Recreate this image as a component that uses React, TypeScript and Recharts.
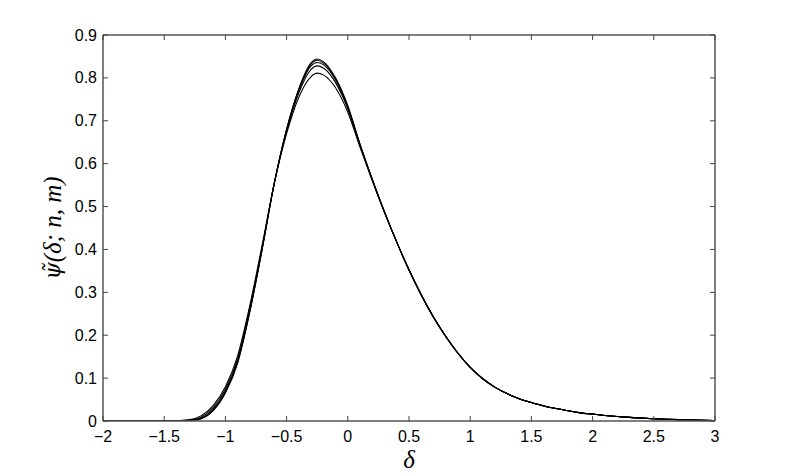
import React from 'react';
import { LineChart, Line, XAxis, YAxis } from 'recharts';

// delta grid (x) and the five psi-tilde curves
const deltas = [
  -2, -1.9, -1.8, -1.7, -1.6, -1.5, -1.4, -1.3, -1.2, -1.1, -1, -0.9, -0.8, -0.7, -0.6, -0.5, -0.4, -0.3, -0.25,
  -0.2, -0.1, 0, 0.1, 0.2, 0.3, 0.4, 0.5, 0.6, 0.7, 0.8, 0.9, 1, 1.1, 1.2, 1.3, 1.4, 1.5, 1.6, 1.7, 1.8, 1.9, 2,
  2.1, 2.2, 2.3, 2.4, 2.5, 2.6, 2.7, 2.8, 2.9, 3,
];

const psiA = [
  0, 0, 0, 0, 0, 0, 0.0001, 0.0007, 0.005, 0.024, 0.065, 0.135, 0.255, 0.4, 0.555, 0.68, 0.775, 0.835, 0.844,
  0.838, 0.8, 0.735, 0.645, 0.563, 0.487, 0.417, 0.352, 0.294, 0.242, 0.197, 0.158, 0.125, 0.099, 0.079, 0.064, 0.052,
  0.043, 0.035, 0.029, 0.024, 0.019, 0.016, 0.013, 0.0105, 0.0085, 0.0068, 0.0054, 0.0042, 0.0032, 0.0024, 0.0017, 0.0012,
];

const psiB = [
  0, 0, 0, 0, 0, 0, 0.0002, 0.001, 0.006, 0.025, 0.067, 0.137, 0.256, 0.4, 0.555, 0.68, 0.773, 0.832, 0.841,
  0.835, 0.798, 0.733, 0.645, 0.563, 0.487, 0.417, 0.352, 0.294, 0.242, 0.197, 0.158, 0.125, 0.099, 0.079, 0.064, 0.052,
  0.043, 0.035, 0.029, 0.024, 0.019, 0.016, 0.013, 0.0105, 0.0085, 0.0068, 0.0054, 0.0042, 0.0032, 0.0024, 0.0017, 0.0012,
];

const psiC = [
  0, 0, 0, 0, 0, 0, 0.0003, 0.0015, 0.007, 0.027, 0.069, 0.14, 0.259, 0.402, 0.555, 0.678, 0.77, 0.828, 0.836,
  0.831, 0.795, 0.731, 0.644, 0.563, 0.487, 0.417, 0.352, 0.294, 0.242, 0.197, 0.158, 0.125, 0.099, 0.079, 0.064, 0.052,
  0.043, 0.035, 0.029, 0.024, 0.019, 0.016, 0.013, 0.0105, 0.0085, 0.0068, 0.0054, 0.0042, 0.0032, 0.0024, 0.0017, 0.0012,
];

const psiD = [
  0, 0, 0, 0, 0, 0.0001, 0.0005, 0.002, 0.009, 0.031, 0.074, 0.145, 0.264, 0.405, 0.555, 0.675, 0.765, 0.82, 0.828,
  0.823, 0.789, 0.728, 0.642, 0.562, 0.487, 0.417, 0.352, 0.294, 0.242, 0.197, 0.158, 0.125, 0.099, 0.079, 0.064, 0.052,
  0.043, 0.035, 0.029, 0.024, 0.019, 0.016, 0.013, 0.0105, 0.0085, 0.0068, 0.0054, 0.0042, 0.0032, 0.0024, 0.0017, 0.0012,
];

const psiE = [
  0, 0, 0, 0, 0, 0.0002, 0.0008, 0.003, 0.012, 0.036, 0.08, 0.152, 0.27, 0.41, 0.555, 0.67, 0.755, 0.803, 0.811,
  0.807, 0.777, 0.72, 0.638, 0.56, 0.486, 0.417, 0.353, 0.295, 0.243, 0.198, 0.158, 0.125, 0.099, 0.079, 0.064, 0.052,
  0.043, 0.035, 0.029, 0.024, 0.019, 0.016, 0.013, 0.0105, 0.0085, 0.0068, 0.0054, 0.0042, 0.0032, 0.0024, 0.0017, 0.0012,
];

const xTicks = [-2, -1.5, -1, -0.5, 0, 0.5, 1, 1.5, 2, 2.5, 3];
const yTicks = [0, 0.1, 0.2, 0.3, 0.4, 0.5, 0.6, 0.7, 0.8, 0.9];
const seriesKeys = ['a', 'b', 'c', 'd', 'e'];

const data = deltas.map((d, i) => ({
  delta: d,
  a: psiA[i],
  b: psiB[i],
  c: psiC[i],
  d: psiD[i],
  e: psiE[i],
}));

const TICK_LEN = 5;
const tickFont = { fontFamily: 'Liberation Sans, Arial, sans-serif', fontSize: 16, fill: '#000' };
const fmt = (v: number) => String(v).replace('-', '\u2212');

const BottomTick = (props: any) => {
  const { x, y, payload } = props;
  return (
    <g>
      <line x1={x} y1={y} x2={x} y2={y - TICK_LEN} stroke="#444" strokeWidth={1} />
      <text x={x} y={y + 15} textAnchor="middle" dominantBaseline="central" {...tickFont}>
        {fmt(payload.value)}
      </text>
    </g>
  );
};

const TopTick = (props: any) => {
  const { x, y } = props;
  return <line x1={x} y1={y} x2={x} y2={y + TICK_LEN} stroke="#444" strokeWidth={1} />;
};

const LeftTick = (props: any) => {
  const { x, y, payload } = props;
  return (
    <g>
      <line x1={x} y1={y} x2={x + TICK_LEN} y2={y} stroke="#444" strokeWidth={1} />
      <text x={x - 6} y={y} textAnchor="end" dominantBaseline="central" {...tickFont}>
        {fmt(payload.value)}
      </text>
    </g>
  );
};

const RightTick = (props: any) => {
  const { x, y } = props;
  return <line x1={x} y1={y} x2={x - TICK_LEN} y2={y} stroke="#444" strokeWidth={1} />;
};

const labelFont = { fontFamily: 'Liberation Serif, DejaVu Serif, serif', fontStyle: 'italic', fontSize: 25, fill: '#000' };

const XLabel = (props: any) => {
  const { viewBox } = props;
  const cx = viewBox.x + viewBox.width / 2;
  return (
    <text x={cx} y={viewBox.y + 38} textAnchor="middle" dominantBaseline="central" {...labelFont}>
      δ
    </text>
  );
};

const YLabel = (props: any) => {
  const { viewBox } = props;
  const cy = viewBox.y + viewBox.height / 2;
  const cx = viewBox.x + 52;
  return (
    <text
      x={cx}
      y={cy}
      textAnchor="middle"
      dominantBaseline="central"
      transform={`rotate(-90 ${cx} ${cy})`}
      {...labelFont}
    >
      <tspan fontFamily="DejaVu Serif" fontSize={22}>{'\u03C8\u0303'}</tspan>
      <tspan>{'(δ; n, m)'}</tspan>
    </text>
  );
};

export default function App() {
  return (
    <div style={{ position: 'absolute', left: 0, top: 0, width: 789, height: 474, background: '#fff' }}>
      <LineChart width={789} height={474} data={data} margin={{ top: 0, right: 0, bottom: 0, left: 0 }}>
        <XAxis
          xAxisId="bottom"
          type="number"
          dataKey="delta"
          domain={[-2, 3]}
          ticks={xTicks}
          allowDataOverflow
          height={53}
          tickSize={0}
          tickMargin={0}
          tickLine={false}
          tick={<BottomTick />}
          stroke="#555"
          strokeWidth={1.5}
          interval={0}
          label={<XLabel />}
        />
        <XAxis
          xAxisId="top"
          orientation="top"
          type="number"
          dataKey="delta"
          domain={[-2, 3]}
          ticks={xTicks}
          allowDataOverflow
          height={35}
          tickSize={0}
          tickMargin={0}
          tickLine={false}
          tick={<TopTick />}
          stroke="#555"
          strokeWidth={1.5}
          interval={0}
        />
        <YAxis
          yAxisId="left"
          type="number"
          domain={[0, 0.9]}
          ticks={yTicks}
          allowDataOverflow
          width={103}
          tickSize={0}
          tickMargin={0}
          tickLine={false}
          tick={<LeftTick />}
          stroke="#000"
          interval={0}
          label={<YLabel />}
        />
        <YAxis
          yAxisId="right"
          orientation="right"
          type="number"
          domain={[0, 0.9]}
          ticks={yTicks}
          allowDataOverflow
          width={74}
          tickSize={0}
          tickMargin={0}
          tickLine={false}
          tick={<RightTick />}
          stroke="#000"
          interval={0}
        />
        {seriesKeys.map((k) => (
          <Line
            key={k}
            xAxisId="bottom"
            yAxisId="left"
            type="monotone"
            dataKey={k}
            stroke="#000"
            strokeWidth={1.1}
            dot={false}
            isAnimationActive={false}
          />
        ))}
      </LineChart>
    </div>
  );
}
